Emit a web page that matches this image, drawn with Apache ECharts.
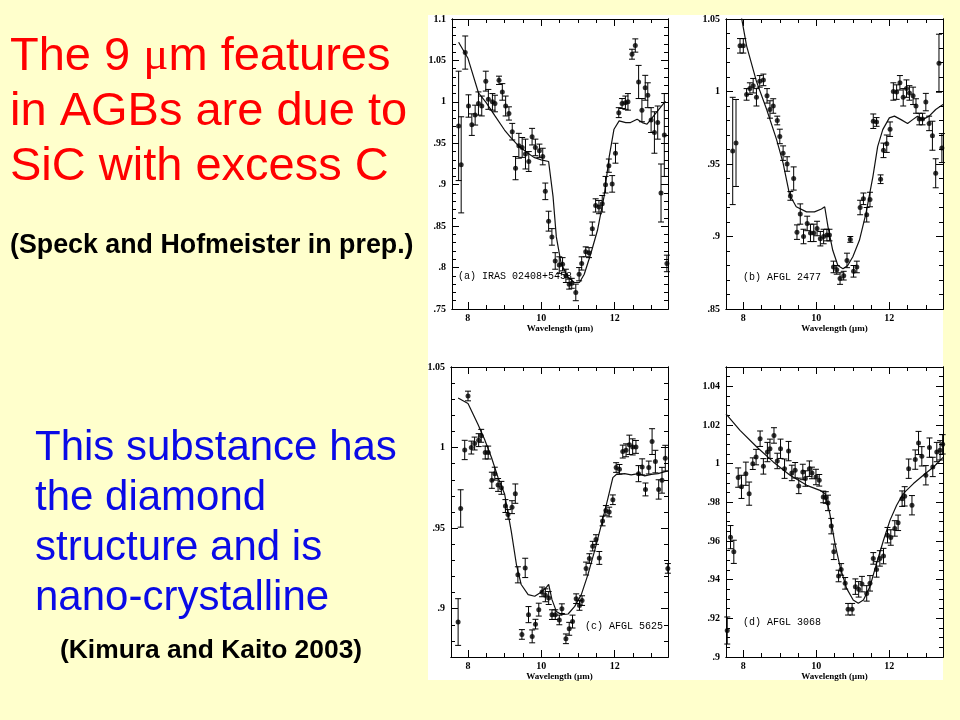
<!DOCTYPE html>
<html><head><meta charset="utf-8">
<script src="https://cdn.jsdelivr.net/npm/echarts@6/dist/echarts.min.js"></script>
<style>html,body{margin:0;padding:0;background:#FFFFCC}#c{width:960px;height:720px}</style>
</head><body><div id="c"></div>
<script>
// ---------- DATA ----------
// Panel (a) IRAS 02408+5458
const aX = [7.75,7.82,7.93,8.02,8.11,8.2,8.29,8.38,8.49,8.56,8.67,8.74,8.85,8.94,9.03,9.12,9.21,9.30,9.39,9.48,9.57,9.66,9.75,9.84,9.95,10.04,10.11,10.20,10.29,10.38,10.49,10.58,10.67,10.76,10.83,10.94,11.03,11.10,11.21,11.30,11.39,11.48,11.57,11.66,11.75,11.84,11.93,12.02,12.11,12.20,12.29,12.36,12.47,12.56,12.65,12.74,12.83,12.90,12.99,13.08,13.17,13.26,13.35,13.42];
const aY = [0.971,0.924,1.0595,0.995,0.9725,0.984,0.998,0.995,1.025,1.003,1.0,0.998,1.026,1.012,0.995,0.986,0.964,0.920,0.947,0.945,0.937,0.928,0.958,0.945,0.941,0.934,0.892,0.856,0.837,0.808,0.803,0.804,0.790,0.780,0.781,0.770,0.792,0.805,0.819,0.818,0.847,0.875,0.873,0.877,0.900,0.923,0.901,0.938,0.987,0.998,0.999,1.000,1.0575,1.068,1.024,0.990,1.017,1.008,0.978,0.963,0.975,0.890,0.960,0.805];
const aErr = [0.066,0.058,0.02,0.0135,0.013,0.012,0.014,0.012,0.012,0.012,0.01,0.01,0.005,0.01,0.012,0.008,0.01,0.014,0.015,0.012,0.018,0.012,0.01,0.01,0.008,0.01,0.01,0.012,0.01,0.01,0.01,0.008,0.008,0.006,0.006,0.01,0.008,0.008,0.006,0.006,0.008,0.008,0.008,0.01,0.01,0.008,0.01,0.012,0.006,0.006,0.008,0.01,0.006,0.008,0.02,0.014,0.015,0.015,0.015,0.025,0.02,0.035,0.05,0.01];
const aLineX = [7.75,8.0,8.29,8.5,8.74,9.0,9.19,9.4,9.64,9.8,10.0,10.2,10.32,10.41,10.54,10.72,10.9,11.04,11.17,11.35,11.53,11.71,11.85,11.98,12.12,12.3,12.43,12.61,12.75,12.88,13.06,13.24,13.38];
const aLineY = [1.072,1.053,1.011,0.999,0.983,0.966,0.956,0.946,0.938,0.933,0.930,0.928,0.886,0.837,0.805,0.789,0.782,0.782,0.792,0.817,0.845,0.886,0.934,0.967,0.977,0.975,0.975,0.979,0.975,0.973,0.983,0.993,1.001];
const aYTicks = [0.75,0.8,0.85,0.9,0.95,1,1.05,1.1];

// Panel (b) AFGL 2477
const bX = [7.71,7.80,7.91,8.00,8.09,8.18,8.27,8.36,8.45,8.55,8.65,8.73,8.82,8.93,9.00,9.09,9.20,9.29,9.38,9.47,9.56,9.65,9.75,9.84,9.93,10.02,10.11,10.20,10.29,10.36,10.47,10.56,10.65,10.75,10.84,10.93,11.02,11.11,11.20,11.29,11.38,11.47,11.56,11.65,11.76,11.84,11.93,12.02,12.11,12.20,12.29,12.38,12.47,12.55,12.65,12.73,12.82,12.91,13.00,13.09,13.18,13.27,13.36,13.44];
const bY = [0.959,0.9645,1.0315,1.0315,0.998,1.002,1.004,0.996,1.007,1.008,0.997,0.9876,0.990,0.980,0.969,0.9575,0.950,0.928,0.940,0.903,0.9155,0.900,0.909,0.9025,0.9025,0.9055,0.8985,0.900,0.901,0.901,0.879,0.877,0.871,0.873,0.8835,0.898,0.876,0.879,0.920,0.926,0.915,0.9255,0.9795,0.979,0.9395,0.9594,0.964,0.974,1.000,0.9996,1.006,0.996,1.002,0.999,0.997,0.990,0.981,0.981,0.9927,0.978,0.9695,0.9436,1.0195,0.961];
const bErr = [0.037,0.03,0.005,0.005,0.004,0.004,0.005,0.006,0.004,0.004,0.005,0.006,0.005,0.003,0.005,0.005,0.005,0.003,0.008,0.005,0.007,0.005,0.005,0.006,0.006,0.005,0.005,0.005,0.004,0.004,0.004,0.003,0.004,0.003,0.005,0.002,0.004,0.004,0.005,0.004,0.005,0.005,0.005,0.003,0.003,0.005,0.006,0.005,0.006,0.005,0.005,0.006,0.006,0.005,0.006,0.005,0.004,0.004,0.006,0.005,0.01,0.01,0.02,0.01];
const bLineX = [7.90,8.09,8.36,8.64,8.91,9.09,9.27,9.45,9.73,9.95,10.14,10.23,10.32,10.45,10.59,10.73,10.86,11.00,11.18,11.36,11.55,11.68,11.82,12.00,12.14,12.32,12.50,12.64,12.77,12.91,13.09,13.27,13.47];
const bLineY = [1.058,1.0315,1.007,0.9876,0.967,0.9506,0.9286,0.9205,0.917,0.917,0.919,0.9205,0.9067,0.8905,0.880,0.8778,0.880,0.886,0.8974,0.916,0.9413,0.962,0.9737,0.9818,0.983,0.9806,0.9779,0.9806,0.983,0.9806,0.983,0.9876,0.991];
const bYTicks = [0.85,0.9,0.95,1,1.05];

// Panel (c) AFGL 5625
const cX = [7.73,7.80,7.91,8.00,8.09,8.18,8.29,8.36,8.47,8.55,8.65,8.73,8.82,8.91,9.02,9.09,9.20,9.29,9.36,9.47,9.56,9.65,9.75,9.84,9.93,10.02,10.11,10.20,10.29,10.38,10.49,10.56,10.67,10.76,10.85,10.95,11.04,11.11,11.22,11.31,11.40,11.49,11.58,11.67,11.76,11.85,11.95,12.04,12.13,12.22,12.31,12.40,12.49,12.58,12.65,12.75,12.84,12.93,13.02,13.11,13.20,13.29,13.38,13.45];
const cY = [0.8917,0.9622,0.9985,1.032,1.000,1.0025,1.0046,1.0073,0.9969,0.9969,0.9797,0.9838,0.9768,0.975,0.9637,0.9585,0.963,0.9714,0.921,0.884,0.9253,0.8963,0.8828,0.8904,0.8994,0.9104,0.9083,0.9066,0.8963,0.8963,0.893,0.900,0.8813,0.8875,0.892,0.9062,0.902,0.905,0.9249,0.9311,0.9388,0.9429,0.9315,0.9544,0.961,0.960,0.9676,0.9876,0.9865,0.9975,0.9983,1.0017,1.0004,1.0004,0.9838,0.988,0.974,0.9876,1.0037,0.9913,0.974,0.9797,0.9934,0.925];
const cErr = [0.0145,0.0116,0.006,0.003,0.004,0.004,0.004,0.004,0.004,0.004,0.005,0.004,0.004,0.004,0.004,0.003,0.004,0.006,0.005,0.003,0.006,0.005,0.004,0.003,0.004,0.003,0.004,0.004,0.003,0.003,0.003,0.003,0.003,0.004,0.004,0.003,0.003,0.003,0.004,0.003,0.003,0.003,0.004,0.003,0.003,0.003,0.003,0.003,0.003,0.004,0.004,0.006,0.005,0.004,0.005,0.005,0.004,0.004,0.008,0.007,0.006,0.008,0.008,0.003];
const cLineX = [7.73,8.00,8.27,8.45,8.64,8.82,9.00,9.18,9.32,9.45,9.64,9.82,10.00,10.14,10.20,10.29,10.41,10.55,10.73,10.91,11.09,11.27,11.45,11.64,11.82,11.95,12.05,12.27,12.45,12.64,12.82,13.00,13.18,13.45];
const cLineY = [1.0307,1.0274,1.0145,1.0052,0.9938,0.9813,0.971,0.948,0.9274,0.915,0.9087,0.9077,0.9104,0.9133,0.915,0.9056,0.8983,0.8963,0.8967,0.9014,0.9087,0.9211,0.9357,0.9523,0.9689,0.9813,0.9834,0.9838,0.983,0.9838,0.9824,0.9834,0.9838,0.9855];
const cYTicks = [0.9,0.95,1,1.05];

// Panel (d) AFGL 3068
const dX = [7.56,7.65,7.74,7.86,7.95,8.07,8.16,8.26,8.35,8.46,8.55,8.66,8.73,8.84,8.93,9.02,9.13,9.24,9.33,9.42,9.52,9.63,9.70,9.81,9.88,9.99,10.08,10.19,10.26,10.32,10.41,10.48,10.61,10.68,10.79,10.87,10.98,11.07,11.16,11.25,11.38,11.47,11.56,11.65,11.74,11.84,11.95,12.04,12.15,12.24,12.35,12.42,12.53,12.62,12.71,12.80,12.89,13.00,13.10,13.19,13.30,13.39,13.46];
const dY = [0.9137,0.962,0.9544,0.9928,0.988,0.9948,0.9845,1.000,1.0034,1.0129,0.9986,1.006,1.0077,1.0146,1.0014,1.0077,0.9974,1.0065,0.9952,0.9966,0.9885,0.9957,0.9923,0.9974,0.9952,0.9931,0.9914,0.9828,0.9825,0.9797,0.9677,0.9544,0.9419,0.9453,0.9381,0.9247,0.9247,0.9364,0.935,0.9377,0.9329,0.9381,0.951,0.9453,0.951,0.9522,0.963,0.9618,0.9665,0.9694,0.9819,0.9831,0.9974,0.9785,1.0021,1.0107,1.0038,0.994,1.0083,0.9983,1.006,1.0069,1.010];
const dErr = [0.007,0.006,0.006,0.005,0.006,0.006,0.006,0.003,0.004,0.004,0.004,0.005,0.005,0.004,0.004,0.005,0.005,0.005,0.004,0.004,0.004,0.004,0.004,0.004,0.003,0.004,0.003,0.003,0.003,0.004,0.004,0.004,0.003,0.003,0.003,0.003,0.003,0.004,0.004,0.004,0.004,0.004,0.003,0.004,0.004,0.004,0.004,0.004,0.004,0.004,0.004,0.005,0.005,0.005,0.005,0.006,0.005,0.005,0.005,0.005,0.005,0.005,0.005];
const dLineX = [7.525,7.91,8.37,8.82,9.28,9.74,10.10,10.24,10.37,10.51,10.65,10.83,11.01,11.15,11.29,11.47,11.65,11.84,12.02,12.20,12.38,12.66,12.93,13.21,13.48];
const dLineY = [1.0258,1.0172,1.0086,1.0009,0.994,0.9888,0.9862,0.9845,0.9742,0.9587,0.9467,0.9355,0.9295,0.9278,0.9295,0.9364,0.9484,0.9604,0.9708,0.9785,0.9845,0.9897,0.994,0.9983,1.0034];
const dYTicks = [0.9,0.92,0.94,0.96,0.98,1,1.02,1.04];

const xTickLabels = [8, 10, 12];
const panelNames = ['(a) IRAS 02408+5458', '(b) AFGL 2477', '(c) AFGL 5625', '(d) AFGL 3068'];
const xAxisTitle = 'Wavelength (\u03bcm)';

// ---------- LAYOUT / STYLE ----------
function range(a, b, step) { const o = []; for (let v = a; v <= b + 1e-9; v += step) o.push(+v.toFixed(4)); return o; }
const PLOT_FONT = 'Liberation Serif';
const panels = [
  { x: aX, y: aY, e: aErr, lx: aLineX, ly: aLineY, yMajor: aYTicks, yMinorStep: 0.01,
    xMin: 7.57, xMax: 13.45, yMin: 0.75, yMax: 1.1, box: { left: 452, top: 19, width: 216, height: 290 }, lab: [458, 276] },
  { x: bX, y: bY, e: bErr, lx: bLineX, ly: bLineY, yMajor: bYTicks, yMinorStep: 0.01,
    xMin: 7.526, xMax: 13.47, yMin: 0.85, yMax: 1.05, box: { left: 726, top: 19, width: 217, height: 290 }, lab: [743, 277] },
  { x: cX, y: cY, e: cErr, lx: cLineX, ly: cLineY, yMajor: cYTicks, yMinorStep: 0.01,
    xMin: 7.536, xMax: 13.454, yMin: 0.87, yMax: 1.05, box: { left: 451, top: 367, width: 217, height: 290 }, lab: [585, 626] },
  { x: dX, y: dY, e: dErr, lx: dLineX, ly: dLineY, yMajor: dYTicks, yMinorStep: 0.005,
    xMin: 7.526, xMax: 13.47, yMin: 0.9, yMax: 1.05, box: { left: 726, top: 367, width: 217, height: 290 }, lab: [743, 622] }
];

const fmtY = v => String(+(+v).toFixed(3)).replace(/^0\./, '.');
const grids = [], xAxes = [], yAxes = [], series = [], graphics = [];

graphics.push({ type: 'rect', z: -10, shape: { x: 428, y: 15, width: 515, height: 665 }, style: { fill: '#ffffff' } });

panels.forEach((p, i) => {
  grids.push(Object.assign({ containLabel: false }, p.box));
  const xMinor = range(8, 13.0, 0.5).filter(v => v >= p.xMin && v <= p.xMax);
  const yMinor = range(p.yMin, p.yMax, p.yMinorStep);
  const line = { show: true, lineStyle: { color: '#000', width: 1 } };
  const mkX = (pos, vals, len, labels) => ({
    type: 'value', gridIndex: i, position: pos, min: p.xMin, max: p.xMax, splitLine: { show: false },
    axisLine: line,
    axisTick: { show: true, inside: true, length: len, customValues: vals, lineStyle: { color: '#000', width: 1 } },
    axisLabel: labels ? { show: true, customValues: xTickLabels, margin: 4, color: '#000',
      fontFamily: PLOT_FONT, fontWeight: 'bold', fontSize: 10 } : { show: false },
    name: labels ? xAxisTitle : '', nameLocation: 'middle', nameGap: 12,
    nameTextStyle: { color: '#000', fontFamily: PLOT_FONT, fontWeight: 'bold', fontSize: 9 }
  });
  const mkY = (pos, vals, len, labels) => ({
    type: 'value', gridIndex: i, position: pos, min: p.yMin, max: p.yMax, splitLine: { show: false },
    axisLine: line,
    axisTick: { show: true, inside: true, length: len, customValues: vals, lineStyle: { color: '#000', width: 1 } },
    axisLabel: labels ? { show: true, customValues: p.yMajor, margin: 6, color: '#000', formatter: fmtY,
      fontFamily: PLOT_FONT, fontWeight: 'bold', fontSize: 10 } : { show: false }
  });
  xAxes.push(mkX('bottom', xTickLabels, 7, true), mkX('bottom', xMinor, 4, false),
             mkX('top', xTickLabels, 7, false), mkX('top', xMinor, 4, false));
  yAxes.push(mkY('left', p.yMajor, 7, true), mkY('left', yMinor, 4, false),
             mkY('right', p.yMajor, 7, false), mkY('right', yMinor, 4, false));
  const xi = i * 4, yi = i * 4;
  const yLo = p.yMin, yHi = p.yMax;
  series.push({
    type: 'line', xAxisIndex: xi, yAxisIndex: yi, data: p.lx.map((v, k) => [v, p.ly[k]]),
    showSymbol: false, symbol: 'none', clip: true, silent: true,
    lineStyle: { color: '#111', width: 1.2 }, z: 3
  });
  series.push({
    type: 'custom', xAxisIndex: xi, yAxisIndex: yi, data: p.x.map((v, k) => [v, p.y[k], p.e[k]]),
    silent: true, z: 4,
    renderItem: (params, api) => {
      const x = api.value(0), y = api.value(1), e = api.value(2);
      const top = Math.min(y + e, yHi), bot = Math.max(y - e, yLo);
      const pt = api.coord([x, top]), pb = api.coord([x, bot]);
      const hw = 3, st = { stroke: '#000', lineWidth: 1 };
      const ch = [{ type: 'line', shape: { x1: pt[0], y1: pt[1], x2: pb[0], y2: pb[1] }, style: st }];
      if (y + e <= yHi) ch.push({ type: 'line', shape: { x1: pt[0] - hw, y1: pt[1], x2: pt[0] + hw, y2: pt[1] }, style: st });
      if (y - e >= yLo) ch.push({ type: 'line', shape: { x1: pb[0] - hw, y1: pb[1], x2: pb[0] + hw, y2: pb[1] }, style: st });
      return { type: 'group', children: ch };
    }
  });
  series.push({
    type: 'scatter', xAxisIndex: xi, yAxisIndex: yi, data: p.x.map((v, k) => [v, p.y[k]]),
    symbol: 'circle', symbolSize: 5, itemStyle: { color: '#000' }, silent: true, z: 5
  });
  graphics.push({ type: 'text', z: 100, x: p.lab[0], y: p.lab[1],
    style: { text: panelNames[i], fill: '#000', font: '10px "Liberation Mono"', verticalAlign: 'middle', align: 'left' } });
});

// Slide text
const sans = '"Liberation Sans", Arial, sans-serif';
const red = '#FF0000', blue = '#0A0AE6';
graphics.push({ type: 'text', z: 100, x: 10, y: 57,
  style: { text: '{s|The 9 }{g|\u03bc}{s|m features}', verticalAlign: 'middle',
    rich: { s: { fontFamily: sans, fontSize: 47, fill: red }, g: { fontFamily: '"Liberation Serif", serif', fontSize: 47, fill: red } } } });
[['in AGBs are due to', 112], ['SiC with excess C', 167]].forEach(([t, y]) =>
  graphics.push({ type: 'text', z: 100, x: 10, y, style: { text: t, fill: red, font: '47px ' + sans, verticalAlign: 'middle' } }));
graphics.push({ type: 'text', z: 100, x: 10, y: 246,
  style: { text: '(Speck and Hofmeister in prep.)', fill: '#000', font: 'bold 26.8px ' + sans, verticalAlign: 'middle' } });
[['This substance has', 448], ['the diamond', 498], ['structure and is', 548], ['nano-crystalline', 598]].forEach(([t, y]) =>
  graphics.push({ type: 'text', z: 100, x: 35, y, style: { text: t, fill: blue, font: '42px ' + sans, verticalAlign: 'middle' } }));
graphics.push({ type: 'text', z: 100, x: 60, y: 651,
  style: { text: '(Kimura and Kaito 2003)', fill: '#000', font: 'bold 26.4px ' + sans, verticalAlign: 'middle' } });

const chart = echarts.init(document.getElementById('c'), null, { renderer: 'canvas' });
chart.setOption({
  backgroundColor: '#FFFFCC',
  animation: false,
  grid: grids, xAxis: xAxes, yAxis: yAxes, series: series, graphic: graphics
});
</script></body></html>
